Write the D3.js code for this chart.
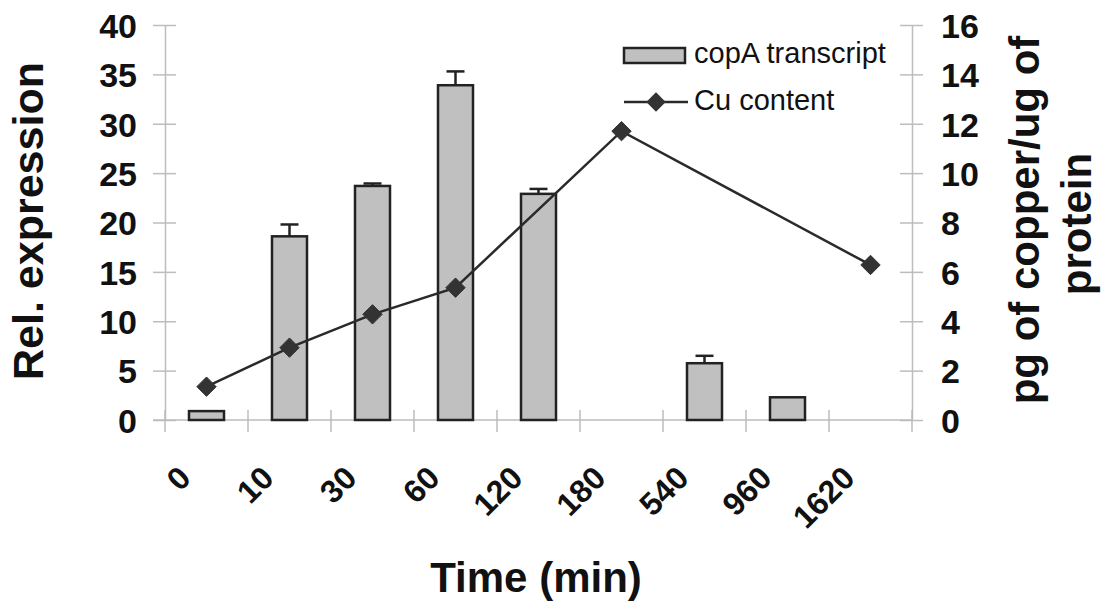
<!DOCTYPE html>
<html>
<head>
<meta charset="utf-8">
<script src="https://cdn.jsdelivr.net/npm/d3@7"></script>
<style>
  body { margin: 0; background: white; }
  text { font-family: "Liberation Sans", Arial, sans-serif; }
</style>
</head>
<body>
<div id="container"></div>
<script>
let w = 1103;
let h = 607;

// data
let times = ["0", "10", "30", "60", "120", "180", "540", "960", "1620"];
let copA = [0.9, 18.6, 23.7, 33.9, 22.9, null, 5.75, 2.3, null];
let copAErrTop = [null, 19.8, 23.95, 35.3, 23.4, null, 6.5, null, null];
let cuContent = [1.35, 2.93, 4.28, 5.36, null, 11.7, null, null, 6.28];
let leftTicks = [0, 5, 10, 15, 20, 25, 30, 35, 40];
let rightTicks = [0, 2, 4, 6, 8, 10, 12, 14, 16];

let plotLeft = 165, plotRight = 912, plotTop = 25, plotBottom = 420;

let viz = d3.select("#container").append("svg")
    .attr("width", w)
    .attr("height", h)
    .style("background-color", "white");

let x = d3.scaleBand().domain(times).range([plotLeft, plotRight]).padding(0);
let y = d3.scaleLinear().domain([0, 40]).range([plotBottom, plotTop]);
let y2 = d3.scaleLinear().domain([0, 16]).range([plotBottom, plotTop]);

let axisColor = "#bdbdbd";

// left axis
let leftAxis = viz.append("g")
  .attr("transform", "translate(" + plotLeft + ",0)")
  .call(d3.axisLeft(y).tickValues(leftTicks).tickSize(12).tickSizeOuter(0).tickPadding(16));
leftAxis.selectAll("line").attr("x2", 11).attr("x1", -12);

// right axis
let rightAxis = viz.append("g")
  .attr("transform", "translate(" + plotRight + ",0)")
  .call(d3.axisRight(y2).tickValues(rightTicks).tickSize(11).tickSizeOuter(0).tickPadding(18));
rightAxis.selectAll("line").attr("x1", -12).attr("x2", 11);

[leftAxis, rightAxis].forEach(function(a){
  a.select(".domain").attr("stroke", axisColor).attr("stroke-width", 1.5);
  a.selectAll(".tick line").attr("stroke", axisColor).attr("stroke-width", 1.5);
  a.selectAll("text")
    .attr("fill", "#111")
    .style("font-size", "34px")
    .style("font-weight", "bold")
    .attr("dy", "0.36em");
});

// bottom axis: ticks at band edges (category boundaries)
let bottomG = viz.append("g");
bottomG.append("line")
  .attr("x1", plotLeft - 12).attr("x2", plotRight)
  .attr("y1", plotBottom).attr("y2", plotBottom)
  .attr("stroke", axisColor).attr("stroke-width", 1.5);
let edges = times.map(function(d){ return x(d); }).concat([plotRight]);
bottomG.selectAll(".xtick").data(edges).enter()
  .append("line")
  .attr("class", "xtick")
  .attr("x1", function(d){ return d; }).attr("x2", function(d){ return d; })
  .attr("y1", plotBottom - 10).attr("y2", plotBottom + 12)
  .attr("stroke", axisColor).attr("stroke-width", 1.5);

let xLabels = bottomG.selectAll(".xlabel").data(times).enter()
  .append("g")
  .attr("class", "xlabel")
  .attr("transform", function(d){
    return "translate(" + (x(d) + x.bandwidth() / 2 - 14) + ",480)";
  });
xLabels.append("text")
  .attr("transform", "rotate(-45)")
  .attr("text-anchor", "end")
  .attr("font-size", 32)
  .attr("font-weight", "bold")
  .attr("fill", "#111")
  .text(function(d){ return d; });

// bars
let barW = 35;
let barData = times.map(function(t, i){ return {t: t, v: copA[i], e: copAErrTop[i]}; })
  .filter(function(d){ return d.v != null; });

viz.selectAll(".bar").data(barData).enter()
  .append("rect")
  .attr("class", "bar")
  .attr("x", function(d){ return x(d.t) + x.bandwidth() / 2 - barW / 2; })
  .attr("y", function(d){ return y(d.v); })
  .attr("width", barW)
  .attr("height", function(d){ return y(0) - y(d.v); })
  .attr("fill", "#c0c0c0")
  .attr("stroke", "#222")
  .attr("stroke-width", 2.5);

// error bars (upper only)
let errData = barData.filter(function(d){ return d.e != null; });
let errG = viz.selectAll(".err").data(errData).enter().append("g").attr("class", "err");
errG.append("line")
  .attr("x1", function(d){ return x(d.t) + x.bandwidth() / 2; })
  .attr("x2", function(d){ return x(d.t) + x.bandwidth() / 2; })
  .attr("y1", function(d){ return y(d.v); })
  .attr("y2", function(d){ return y(d.e); })
  .attr("stroke", "#222").attr("stroke-width", 2.5);
errG.append("line")
  .attr("x1", function(d){ return x(d.t) + x.bandwidth() / 2 - 9; })
  .attr("x2", function(d){ return x(d.t) + x.bandwidth() / 2 + 9; })
  .attr("y1", function(d){ return y(d.e); })
  .attr("y2", function(d){ return y(d.e); })
  .attr("stroke", "#222").attr("stroke-width", 2.5);

// Cu content line
let cuData = times.map(function(t, i){ return {t: t, v: cuContent[i]}; })
  .filter(function(d){ return d.v != null; });

let lineMaker = d3.line()
  .x(function(d){ return x(d.t) + x.bandwidth() / 2; })
  .y(function(d){ return y2(d.v); });

viz.append("path")
  .datum(cuData)
  .attr("d", lineMaker)
  .attr("fill", "none")
  .attr("stroke", "#2a2a2a")
  .attr("stroke-width", 2.5);

let diamond = d3.symbol().type(d3.symbolDiamond2).size(240);
viz.selectAll(".pt").data(cuData).enter()
  .append("path")
  .attr("class", "pt")
  .attr("d", diamond)
  .attr("transform", function(d){
    return "translate(" + (x(d.t) + x.bandwidth() / 2) + "," + y2(d.v) + ")";
  })
  .attr("fill", "#333")
  .attr("stroke", "#333")
  .attr("stroke-width", 1);

// legend
let legend = viz.append("g");
legend.append("rect")
  .attr("x", 624).attr("y", 48).attr("width", 61).attr("height", 15)
  .attr("fill", "#c0c0c0").attr("stroke", "#222").attr("stroke-width", 2.5);
legend.append("text")
  .attr("x", 694).attr("y", 63)
  .style("font-size", "29px").attr("fill", "#111")
  .text("copA transcript");
legend.append("line")
  .attr("x1", 624).attr("x2", 688).attr("y1", 102).attr("y2", 102)
  .attr("stroke", "#2a2a2a").attr("stroke-width", 2.5);
legend.append("path")
  .attr("d", diamond)
  .attr("transform", "translate(656,102)")
  .attr("fill", "#333");
legend.append("text")
  .attr("x", 694).attr("y", 110)
  .style("font-size", "29px").attr("fill", "#111")
  .text("Cu content");

// axis titles
viz.append("text")
  .attr("transform", "translate(43,221) rotate(-90)")
  .attr("text-anchor", "middle")
  .style("font-size", "43px").style("font-weight", "bold").attr("fill", "#111")
  .text("Rel. expression");

viz.append("text")
  .attr("transform", "translate(1039,220) rotate(-90)")
  .attr("text-anchor", "middle")
  .style("font-size", "42px").style("font-weight", "bold").attr("fill", "#111")
  .text("pg of copper/ug of");
viz.append("text")
  .attr("transform", "translate(1091,224) rotate(-90)")
  .attr("text-anchor", "middle")
  .style("font-size", "42px").style("font-weight", "bold").attr("fill", "#111")
  .text("protein");

viz.append("text")
  .attr("x", 536).attr("y", 592)
  .attr("text-anchor", "middle")
  .style("font-size", "42px").style("font-weight", "bold").attr("fill", "#111")
  .text("Time (min)");
</script>
</body>
</html>
